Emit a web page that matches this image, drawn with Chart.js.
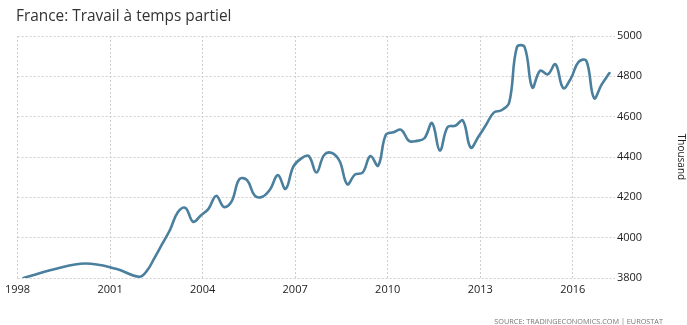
<!DOCTYPE html>
<html lang="fr">
<head>
<meta charset="utf-8">
<title>France: Travail à temps partiel</title>
<script src="https://cdn.jsdelivr.net/npm/chart.js@4/dist/chart.umd.min.js"></script>
<style>
  html, body { margin: 0; padding: 0; background: #fff; }
  #wrap { position: relative; width: 687px; height: 325px; overflow: hidden; }
  #chart { position: absolute; left: 0; top: 0; }
  #title {
    position: absolute; left: 16px; top: 5px;
    font-family: "Open Sans", "Noto Sans", sans-serif; font-size: 15.4px;
    color: #333; white-space: nowrap;
  }
  #source {
    position: absolute; right: 24px; top: 316px;
    font-family: "Open Sans", "Noto Sans", sans-serif; font-size: 7.3px;
    color: #777; white-space: nowrap;
  }
</style>
</head>
<body>
<div id="wrap">
  <canvas id="chart" width="687" height="325"></canvas>
  <div id="title">France: Travail à temps partiel</div>
  <div id="source">SOURCE: TRADINGECONOMICS.COM | EUROSTAT</div>
</div>
<script>
// Part-time employment in France, thousands of persons (annual until 2001, quarterly after)
const periods = [
  '1998Q1', '1999Q1', '2000Q1', '2001Q1', '2001Q4',
  '2002Q1', '2002Q2', '2002Q3', '2002Q4',
  '2003Q1', '2003Q2', '2003Q3', '2003Q4',
  '2004Q1', '2004Q2', '2004Q3', '2004Q4',
  '2005Q1', '2005Q2', '2005Q3', '2005Q4',
  '2006Q1', '2006Q2', '2006Q3', '2006Q4',
  '2007Q1', '2007Q2', '2007Q3', '2007Q4',
  '2008Q1', '2008Q2', '2008Q3', '2008Q4',
  '2009Q1', '2009Q2', '2009Q3', '2009Q4',
  '2010Q1', '2010Q2', '2010Q3', '2010Q4',
  '2011Q1', '2011Q2', '2011Q3', '2011Q4',
  '2012Q1', '2012Q2', '2012Q3', '2012Q4',
  '2013Q1', '2013Q2', '2013Q3', '2013Q4',
  '2014Q1', '2014Q2', '2014Q3', '2014Q4',
  '2015Q1', '2015Q2', '2015Q3', '2015Q4',
  '2016Q1', '2016Q2', '2016Q3', '2016Q4',
  '2017Q1'
];
const partTime = [
  3800, 3843, 3872, 3846, 3806,
  3835, 3900, 3969, 4038,
  4125, 4148, 4079, 4110,
  4143, 4207, 4152, 4180,
  4290, 4285, 4208, 4203,
  4240, 4310, 4242, 4352,
  4392, 4405, 4323, 4410,
  4420, 4380, 4265, 4313,
  4323, 4405, 4357, 4510,
  4523, 4535, 4480, 4480,
  4493, 4568, 4432, 4548,
  4555, 4580, 4447, 4500,
  4560, 4620, 4632, 4670,
  4945, 4945, 4745, 4828,
  4810, 4860, 4742, 4790,
  4872, 4877, 4692, 4760,
  4816
];
const yearTicks = [1998, 2001, 2004, 2007, 2010, 2013, 2016];
const valueTicks = [3800, 4000, 4200, 4400, 4600, 4800, 5000];

// Observations are dated a little after the start of their quarter
function periodToYear(p) {
  const year = parseInt(p.slice(0, 4), 10);
  const q = parseInt(p.slice(5), 10);
  return year + (q - 1) / 4 + 0.19;
}

const points = periods.map((p, i) => ({ x: periodToYear(p), y: partTime[i] }));

const tickFont = { family: '"Open Sans", "Noto Sans", sans-serif', size: 11 };
const gridColor = '#cfcfcf';

new Chart(document.getElementById('chart'), {
  type: 'line',
  data: {
    datasets: [{
      label: 'Travail à temps partiel',
      data: points,
      borderColor: '#4b7f9e',
      borderWidth: 2.6,
      pointRadius: 0,
      pointHoverRadius: 0,
      fill: false,
      tension: 0.4,
      borderCapStyle: 'round',
      borderJoinStyle: 'round'
    }]
  },
  options: {
    responsive: false,
    animation: false,
    devicePixelRatio: 1,
    layout: { padding: { left: 16, top: 36, right: 0, bottom: 0 } },
    plugins: { legend: { display: false }, tooltip: { enabled: false }, title: { display: false } },
    scales: {
      x: {
        type: 'linear',
        position: 'bottom',
        min: 1998,
        max: 2017.37,
        afterBuildTicks: (scale) => { scale.ticks = yearTicks.map(v => ({ value: v })); },
        afterFit: (scale) => { scale.height = 47; },
        ticks: {
          font: tickFont,
          color: '#222',
          padding: 5,
          maxRotation: 0,
          autoSkip: false,
          callback: (v) => String(v)
        },
        grid: { color: gridColor, lineWidth: 1, drawTicks: false },
        border: { display: false, dash: [2, 2] }
      },
      y: {
        type: 'linear',
        position: 'right',
        min: 3800,
        max: 5000,
        afterBuildTicks: (scale) => { scale.ticks = valueTicks.map(v => ({ value: v })); },
        afterFit: (scale) => { scale.width = 72; },
        ticks: {
          font: tickFont,
          color: '#222',
          padding: 2,
          autoSkip: false,
          callback: (v) => String(v)
        },
        grid: { color: gridColor, lineWidth: 1, drawTicks: false },
        border: { display: false, dash: [2, 2] },
        title: {
          display: true,
          text: 'Thousand',
          color: '#222',
          font: { family: '"Open Sans", "Noto Sans", sans-serif', size: 10 },
          padding: { top: 0, bottom: 0 }
        }
      }
    }
  }
});
</script>
</body>
</html>
